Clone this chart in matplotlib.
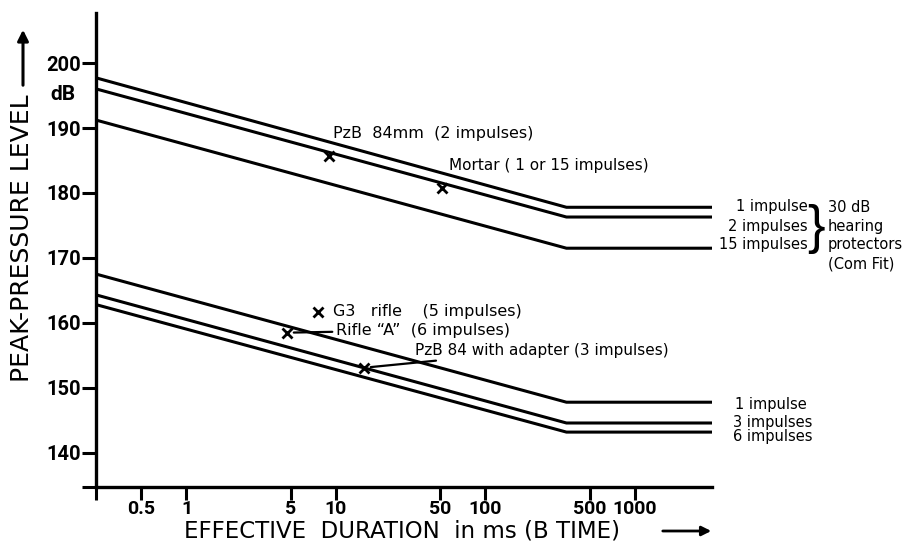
import matplotlib
matplotlib.use("Agg")
import matplotlib.pyplot as plt
from matplotlib.ticker import FixedLocator, NullLocator

# effective duration breakpoints (ms): axis start, knee, end
durations = [0.25, 350, 3300]

# upper group (30 dB hearing protectors)
upper_1 = [197.7, 177.8, 177.8]
upper_2 = [196.0, 176.3, 176.3]
upper_15 = [191.2, 171.5, 171.5]

# lower group (unprotected)
lower_1 = [167.5, 147.8, 147.8]
lower_3 = [164.3, 144.6, 144.6]
lower_6 = [162.8, 143.2, 143.2]

# measured weapons (duration ms, peak level dB)
weapon_names = ["PzB 84mm", "Mortar", "G3 rifle", "Rifle A", "PzB 84 adapter"]
weapon_dur = [9.0, 51.0, 7.6, 4.7, 15.4]
weapon_db = [185.7, 180.8, 161.7, 158.5, 153.1]

x_ticks = [0.5, 1, 5, 10, 50, 100, 500, 1000]
x_tick_labels = ["0.5", "1", "5", "10", "50", "100", "500", "1000"]
y_ticks = [140, 150, 160, 170, 180, 190, 200]

W, H = 913, 542
TICKFONT = ["Roboto", "DejaVu Sans"]


def fx(px):
    return px / W


def fy(py):
    return 1 - py / H


fig = plt.figure(figsize=(9.13, 5.42), dpi=100)
ax = fig.add_axes([fx(96), fy(487), fx(712) - fx(96), fy(13) - fy(487)])

for series in [upper_1, upper_2, upper_15, lower_1, lower_3, lower_6]:
    ax.plot(durations, series, color="black", lw=2.2, solid_capstyle="butt", clip_on=False)

ax.plot(weapon_dur, weapon_db, linestyle="none", marker="x", color="black",
        markersize=6.5, markeredgewidth=2)

ax.set_xscale("log")
ax.set_xlim(0.248, 3300)
ax.set_ylim(134.75, 207.7)

# ticks incl. an unlabeled tick at each axis start (spines poke past the corner)
ax.xaxis.set_major_locator(FixedLocator([0.248] + x_ticks))
ax.set_xticklabels([""] + x_tick_labels)
ax.xaxis.set_minor_locator(NullLocator())
ax.yaxis.set_major_locator(FixedLocator([134.75] + y_ticks))
ax.set_yticklabels([""] + [str(v) for v in y_ticks])
ax.tick_params(axis="both", direction="out", length=10, width=2.2, labelsize=14.5, pad=1)
ax.tick_params(axis="x", length=9, labelsize=14, pad=0)
for lbl in ax.get_xticklabels() + ax.get_yticklabels():
    lbl.set_fontfamily(TICKFONT)
    lbl.set_fontweight("bold")

for side in ["top", "right"]:
    ax.spines[side].set_visible(False)
for side in ["left", "bottom"]:
    ax.spines[side].set_linewidth(2.4)

# weapon annotations
txt = dict(fontsize=11.5, va="center", ha="left")
ax.text(9.53, 189.2, "PzB  84mm  (2 impulses)", **txt)
ax.text(56.9, 184.3, "Mortar ( 1 or 15 impulses)", fontsize=11, va="center", ha="left")
ax.text(9.53, 161.7, "G3   rifle    (5 impulses)", **txt)
ax.annotate("Rifle \u201cA\u201d  (6 impulses)", xy=(weapon_dur[3], weapon_db[3]),
            xytext=(10.1, 158.9), fontsize=11.5, va="center", ha="left",
            arrowprops=dict(arrowstyle="-", lw=1.6, shrinkA=1, shrinkB=5))
ax.annotate("PzB 84 with adapter (3 impulses)", xy=(weapon_dur[4], weapon_db[4]),
            xytext=(33.7, 155.8), fontsize=11, va="center", ha="left",
            arrowprops=dict(arrowstyle="-", lw=1.6, shrinkA=1, shrinkB=5))

# right-hand labels, upper group
lab = dict(fontsize=10.5, va="center")
fig.text(fx(808), fy(207), "1 impulse", ha="right", **lab)
fig.text(fx(808), fy(226), "2 impulses", ha="right", **lab)
fig.text(fx(808), fy(245), "15 impulses", ha="right", **lab)
fig.text(fx(816), fy(229), "}", ha="center", va="center", fontsize=38,
         fontfamily="Liberation Sans")
fig.text(fx(828), fy(207), "30 dB", ha="left", **lab)
fig.text(fx(828), fy(226), "hearing", ha="left", **lab)
fig.text(fx(828), fy(245), "protectors", ha="left", **lab)
fig.text(fx(828), fy(264), "(Com Fit)", ha="left", **lab)

# right-hand labels, lower group
fig.text(fx(735), fy(404), "1 impulse", ha="left", **lab)
fig.text(fx(733), fy(422), "3 impulses", ha="left", **lab)
fig.text(fx(733), fy(437), "6 impulses", ha="left", **lab)

# axis titles with arrows
fig.text(fx(63), fy(95), "dB", ha="center", va="center", fontsize=15,
         fontfamily=TICKFONT, fontweight="bold")
fig.text(fx(22), fy(238), "PEAK-PRESSURE LEVEL", rotation=90, ha="center",
         va="center", fontsize=18)
ax.annotate("", xy=(fx(23), fy(27)), xytext=(fx(23), fy(88)), xycoords="figure fraction",
            textcoords="figure fraction",
            arrowprops=dict(arrowstyle="-|>", lw=2.2, color="black", mutation_scale=16))

fig.text(fx(402), fy(537), "EFFECTIVE  DURATION  in ms (B TIME)", ha="center",
         va="baseline", fontsize=16.5)
ax.annotate("", xy=(fx(714), fy(531)), xytext=(fx(660), fy(531)), xycoords="figure fraction",
            textcoords="figure fraction",
            arrowprops=dict(arrowstyle="-|>", lw=2, color="black", mutation_scale=14))

fig.savefig("out.png", dpi=100)
